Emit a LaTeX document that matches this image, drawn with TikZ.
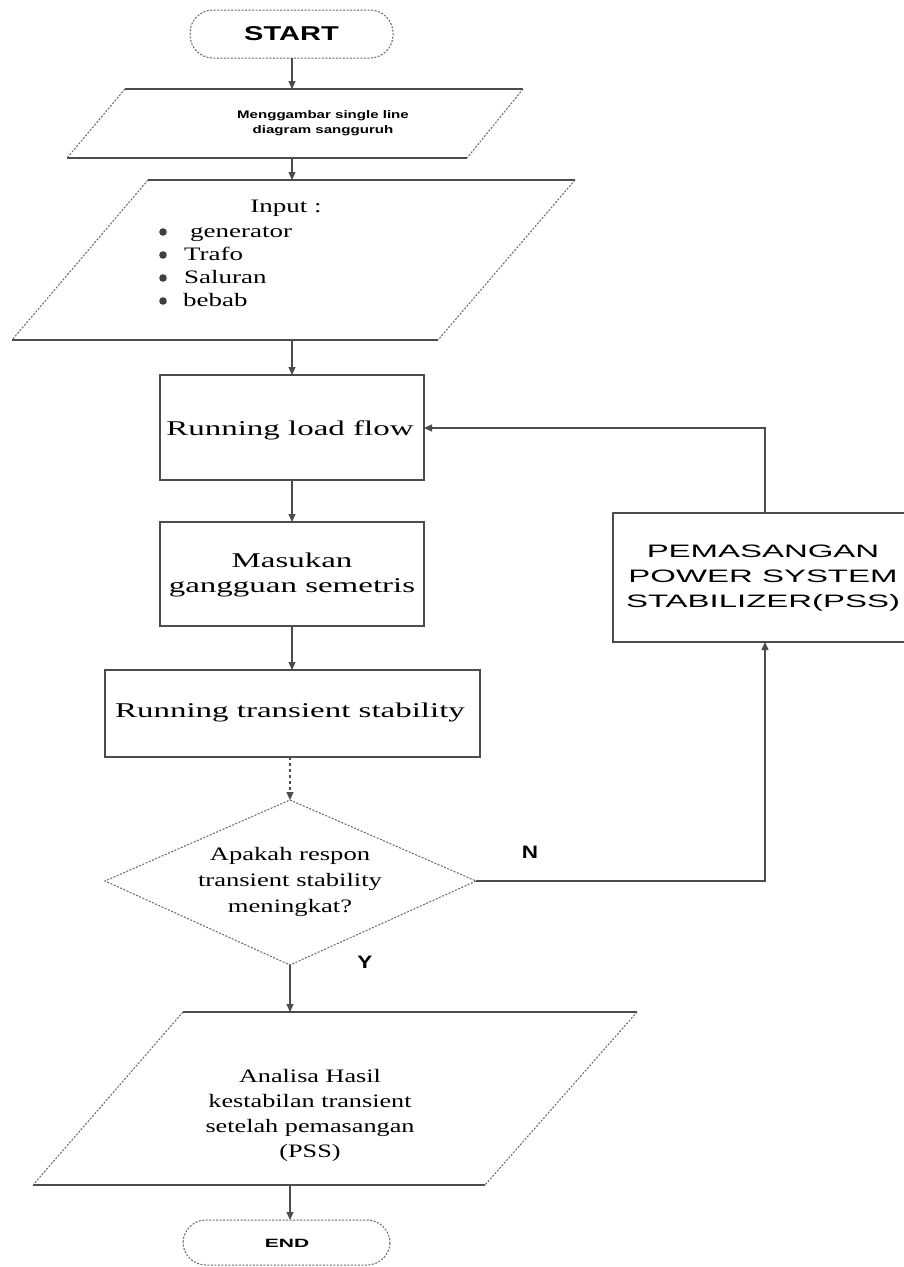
\documentclass[tikz,border=0pt]{standalone}
\usepackage{fontspec}
\setmainfont{Liberation Serif}
\setsansfont{Liberation Sans}
\usetikzlibrary{arrows.meta}
\newcommand{\hsc}[2]{\scalebox{#1}[1]{#2}}
\begin{document}
\begin{tikzpicture}[x=1pt,y=-1pt,
  ln/.style={draw=black!70, line width=1.1pt},
  dotln/.style={draw=black!60, line width=1pt, dash pattern=on 2pt off 1.5pt},
  arr/.style={ln, -{Triangle[length=8pt,width=7pt]}},
  term/.style={dotln, rounded corners=23pt},
  boxtxt/.style={font=\fontsize{21}{25}\selectfont, align=center, inner sep=0pt},
  smtxt/.style={font=\fontsize{19}{25}\selectfont, align=center, inner sep=0pt},
  lbl/.style={font=\sffamily\bfseries\fontsize{18}{20}\selectfont, inner sep=0pt}
]
\useasboundingbox (0,0) rectangle (903,1267);
\fill[white] (0,0) rectangle (903,1267);

% START
\draw[term] (190,10) rectangle (393,58);
\node[inner sep=0pt, font=\sffamily\bfseries\fontsize{20}{24}\selectfont] (start) at (291.5,34) {\hsc{1.45}{START}};
\coordinate (startb) at (292,58);

% Parallelogram 1
\draw[ln] (125,89) -- (523,89);
\draw[ln] (67,158) -- (467,158);
\draw[dotln] (125,89) -- (67,158);
\draw[dotln] (523,89) -- (467,158);
\coordinate (p1t) at (292,89);
\coordinate (p1b) at (292,158);
\node[inner sep=0pt, align=center, font=\sffamily\bfseries\fontsize{11}{15}\selectfont] (p1) at (323,123)
  {\hsc{1.37}{Menggambar single line}\\\hsc{1.37}{diagram sangguruh}};

% Parallelogram 2
\draw[ln] (148,180) -- (575,180);
\draw[ln] (12,340) -- (438,340);
\draw[dotln] (148,180) -- (12,340);
\draw[dotln] (575,180) -- (438,340);
\coordinate (p2t) at (292,180);
\coordinate (p2b) at (292,340);
\node[smtxt] (inp) at (286,208) {\hsc{1.42}{Input :}};
\foreach \y/\t/\n/\dx in {232/generator/i1/190, 255/Trafo/i2/184, 278/Saluran/i3/184, 301/bebab/i4/183}{
  \fill[black!75] (163,\y) circle (3.8pt);
  \node[smtxt, anchor=base west] (\n) at (\dx,\y+5) {\hsc{1.42}{\t}};
}

% Box 1
\draw[ln] (160,375) rectangle (424,480);
\node[boxtxt] (b1) at (290,430) {\hsc{1.57}{Running load flow}};
\coordinate (b1t) at (292,375);
\coordinate (b1b) at (292,480);
\coordinate (b1r) at (424,428);

% Box 2
\draw[ln] (160,522) rectangle (424,626);
\node[boxtxt] (b2) at (292,575) {\hsc{1.57}{Masukan}\\\hsc{1.57}{gangguan semetris}};
\coordinate (b2t) at (292,522);
\coordinate (b2b) at (292,626);

% Box 3
\draw[ln] (105,670) rectangle (480,757);
\node[boxtxt] (b3) at (290,712) {\hsc{1.57}{Running transient stability}};
\coordinate (b3t) at (292,670);
\coordinate (b3b) at (290,757);

% Decision
\draw[dotln] (290,800) -- (476,881) -- (290,965) -- (105,881) -- cycle;
\coordinate (dt) at (290,800);
\coordinate (dr) at (476,881);
\coordinate (db) at (290,965);
\node[smtxt, font=\fontsize{19}{26}\selectfont] (dec) at (290,882)
  {\hsc{1.4}{Apakah respon}\\\hsc{1.4}{transient stability}\\\hsc{1.4}{meningkat?}};
\node[lbl] (nlab) at (530,852) {\hsc{1.25}{N}};
\node[lbl] (ylab) at (365,962) {\hsc{1.25}{Y}};

% PSS box
\draw[ln] (613,513) rectangle (915,642);
\node[inner sep=0pt, align=center, font=\sffamily\fontsize{18}{25}\selectfont] (pss) at (763,578)
  {\hsc{1.83}{PEMASANGAN}\\\hsc{1.83}{POWER SYSTEM}\\\hsc{1.83}{STABILIZER(PSS)}};
\coordinate (psst) at (765,513);
\coordinate (pssb) at (765,642);
\coordinate (nturn) at (765,881);
\coordinate (rturn) at (765,428);

% Parallelogram 3
\draw[ln] (183,1012) -- (637,1012);
\draw[ln] (33,1185) -- (485,1185);
\draw[dotln] (183,1012) -- (33,1185);
\draw[dotln] (637,1012) -- (485,1185);
\coordinate (p3t) at (290,1012);
\coordinate (p3b) at (290,1185);
\node[smtxt] (p3) at (310,1115)
  {\hsc{1.38}{Analisa Hasil}\\\hsc{1.38}{kestabilan transient}\\\hsc{1.38}{setelah pemasangan}\\\hsc{1.38}{(PSS)}};

% END
\draw[term] (183,1220) rectangle (390,1265);
\node[inner sep=0pt, font=\sffamily\bfseries\fontsize{12}{14}\selectfont] (endn) at (287,1243) {\hsc{1.75}{END}};
\coordinate (endt) at (290,1220);

% connectors
\draw[arr] (startb) -- (p1t);
\draw[arr] (p1b) -- (p2t);
\draw[arr] (p2b) -- (b1t);
\draw[arr] (b1b) -- (b2t);
\draw[arr] (b2b) -- (b3t);
\draw[arr, dashed] (b3b) -- (dt);
\draw[arr] (db) -- (p3t);
\draw[arr] (p3b) -- (endt);
\draw[arr] (dr) -- (nturn) -- (pssb);
\draw[arr] (psst) -- (rturn) -- (b1r);
\end{tikzpicture}
\end{document}
